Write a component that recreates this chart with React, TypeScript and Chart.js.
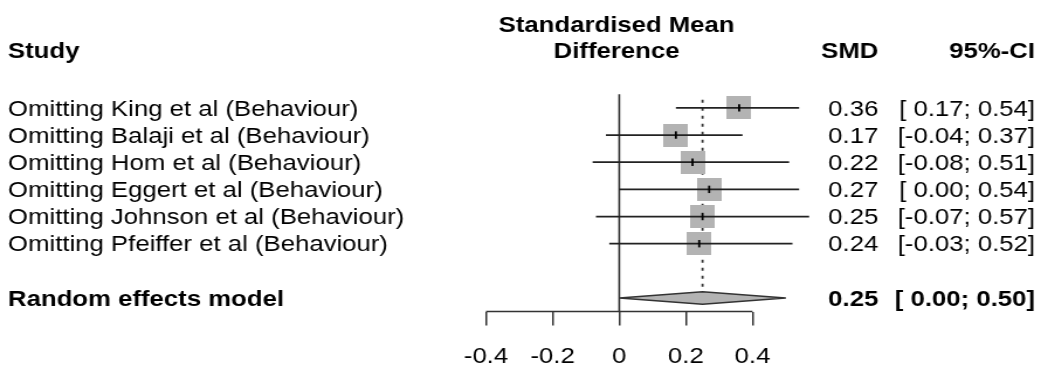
import React, { useEffect, useRef } from 'react';
import { Chart, registerables } from 'chart.js';

Chart.register(...registerables);

// ---------- data ----------
const STUDIES = [
  'Omitting King et al (Behaviour)',
  'Omitting Balaji et al (Behaviour)',
  'Omitting Hom et al (Behaviour)',
  'Omitting Eggert et al (Behaviour)',
  'Omitting Johnson et al (Behaviour)',
  'Omitting Pfeiffer et al (Behaviour)',
];
const SMD = [0.36, 0.17, 0.22, 0.27, 0.25, 0.24];
const CI_LOWER = [0.17, -0.04, -0.08, 0.0, -0.07, -0.03];
const CI_UPPER = [0.54, 0.37, 0.51, 0.54, 0.57, 0.52];

const POOLED_LABEL = 'Random effects model';
const POOLED_SMD = 0.25;
const POOLED_LOWER = 0.0;
const POOLED_UPPER = 0.5;

const X_TICKS = [-0.4, -0.2, 0, 0.2, 0.4];
const X_TICK_LABELS = ['-0.4', '-0.2', '0', '0.2', '0.4'];

const HEADER_STUDY = 'Study';
const HEADER_EFFECT = ['Standardised Mean', 'Difference'];
const HEADER_SMD = 'SMD';
const HEADER_CI = '95%-CI';

// ---------- layout (canvas space; canvas is stretched horizontally by CSS) ----------
const CSS_W = 1041;
const W = 890;
const H = 388;
const SX = CSS_W / W;
const FONT = '"Liberation Sans", Arial, Helvetica, sans-serif';
const FONT_SIZE = 22;
const DIAMOND_H = 0.23;

const fmt = (v: number) => v.toFixed(2);
const fmtCI = (lo: number, hi: number) => `[${fmt(lo).padStart(5, ' ')}; ${fmt(hi)}]`;

export default function App() {
  const ref = useRef<HTMLCanvasElement>(null);

  useEffect(() => {
    const canvas = ref.current;
    if (!canvas) return;

    const square = document.createElement('canvas');
    square.width = 21;
    square.height = 23;
    const sctx = square.getContext('2d')!;
    sctx.fillStyle = '#b3b3b3';
    sctx.fillRect(0, 0, square.width, square.height);

    const rows = STUDIES.map((_, i) => i + 1);
    const pooledRow = STUDIES.length + 2;
    const yMin = 0.5;
    const yMax = pooledRow + 0.5;

    const common = { type: 'line', clip: false, tension: 0, pointRadius: 0, fill: false };

    const datasets: any[] = [
      {
        ...common,
        label: 'pooled-ref',
        data: [
          { x: POOLED_SMD, y: 0.7 },
          { x: POOLED_SMD, y: pooledRow - DIAMOND_H },
        ],
        borderColor: '#333',
        borderWidth: 1.8,
        borderDash: [3, 5],
        order: 10,
      },
      {
        ...common,
        label: 'null-line',
        data: [
          { x: 0, y: yMin },
          { x: 0, y: yMax },
        ],
        borderColor: '#2b2b2b',
        borderWidth: 1.6,
        order: 9,
      },
      {
        ...common,
        label: 'squares',
        data: SMD.map((v, i) => ({ x: v, y: rows[i] })),
        showLine: false,
        pointStyle: square,
        pointRadius: 10,
        order: 8,
      },
      ...STUDIES.map((s, i) => ({
        ...common,
        label: s,
        data: [
          { x: CI_LOWER[i], y: rows[i] },
          { x: CI_UPPER[i], y: rows[i] },
        ],
        borderColor: '#222',
        borderWidth: 1.8,
        order: 7,
      })),
      {
        ...common,
        label: 'estimates',
        data: SMD.map((v, i) => ({ x: v, y: rows[i] })),
        showLine: false,
        pointStyle: 'line',
        pointRotation: 90,
        pointRadius: 3.7,
        pointBorderWidth: 1.8,
        pointBorderColor: '#000',
        order: 6,
      },
      {
        ...common,
        label: POOLED_LABEL,
        data: [
          { x: POOLED_LOWER, y: pooledRow },
          { x: POOLED_SMD, y: pooledRow - DIAMOND_H },
          { x: POOLED_UPPER, y: pooledRow },
          { x: POOLED_SMD, y: pooledRow + DIAMOND_H },
          { x: POOLED_LOWER, y: pooledRow },
        ],
        fill: 'shape',
        backgroundColor: '#b3b3b3',
        borderColor: '#333',
        borderWidth: 1.5,
        order: 5,
      },
      {
        ...common,
        label: 'x-axis',
        data: [
          { x: X_TICKS[0], y: yMax },
          { x: X_TICKS[X_TICKS.length - 1], y: yMax },
        ],
        borderColor: '#333',
        borderWidth: 1.5,
        order: 4,
      },
    ];

    const textPlugin = {
      id: 'forestText',
      afterDraw(chart: any) {
        const ctx = chart.ctx as CanvasRenderingContext2D;
        const ys = chart.scales.y;
        const reg = `${FONT_SIZE}px ${FONT}`;
        const bold = `bold ${FONT_SIZE}px ${FONT}`;
        const xLeft = 8 / SX;
        const xCenter = 616.6 / SX;
        const xSmd = 878.3 / SX;
        const xCi = 1035 / SX;
        const off = 7.7;
        ctx.save();
        ctx.fillStyle = '#000';
        ctx.textBaseline = 'alphabetic';

        // headers
        ctx.font = bold;
        ctx.textAlign = 'left';
        ctx.fillText(HEADER_STUDY, xLeft, 58);
        ctx.textAlign = 'center';
        ctx.fillText(HEADER_EFFECT[0], xCenter, 31.5);
        ctx.fillText(HEADER_EFFECT[1], xCenter, 58);
        ctx.textAlign = 'right';
        ctx.fillText(HEADER_SMD, xSmd, 58);
        ctx.fillText(HEADER_CI, xCi, 58);

        // study rows
        ctx.font = reg;
        STUDIES.forEach((s, i) => {
          const py = ys.getPixelForValue(rows[i]) + off;
          ctx.textAlign = 'left';
          ctx.fillText(s, xLeft, py);
          ctx.textAlign = 'right';
          ctx.fillText(fmt(SMD[i]), xSmd, py);
          ctx.fillText(fmtCI(CI_LOWER[i], CI_UPPER[i]), xCi, py);
        });

        // pooled row
        ctx.font = bold;
        const pp = ys.getPixelForValue(pooledRow) + off;
        ctx.textAlign = 'left';
        ctx.fillText(POOLED_LABEL, xLeft, pp);
        ctx.textAlign = 'right';
        ctx.fillText(fmt(POOLED_SMD), xSmd, pp);
        ctx.fillText(fmtCI(POOLED_LOWER, POOLED_UPPER), xCi, pp);
        ctx.restore();
      },
    };

    const xMin = -0.4;
    const xMax = 0.62;
    const leftPx = 486 / SX;
    const rightPx = (619 + xMax * 333.5) / SX;

    const chart = new Chart(canvas, {
      type: 'line',
      data: { datasets },
      options: {
        responsive: false,
        animation: false,
        events: [],
        layout: {
          padding: { left: leftPx, right: W - rightPx, top: 94.3, bottom: 0 },
        },
        plugins: {
          legend: { display: false },
          tooltip: { enabled: false },
        },
        scales: {
          x: {
            type: 'linear',
            position: 'bottom',
            min: xMin,
            max: xMax,
            afterBuildTicks: (axis: any) => {
              axis.ticks = X_TICKS.map((v) => ({ value: v }));
            },
            ticks: {
              autoSkip: false,
              maxRotation: 0,
              padding: 18,
              color: '#000',
              font: { family: FONT, size: FONT_SIZE },
              callback: (_v: any, i: number) => X_TICK_LABELS[i],
            },
            grid: {
              display: true,
              drawOnChartArea: false,
              drawTicks: true,
              tickLength: 14,
              lineWidth: 1.5,
              color: '#333',
            },
            border: { display: false },
          },
          y: {
            type: 'linear',
            display: false,
            reverse: true,
            min: yMin,
            max: yMax,
          },
        },
      } as any,
      plugins: [textPlugin],
    } as any);

    return () => chart.destroy();
  }, []);

  return (
    <canvas
      ref={ref}
      width={W}
      height={H}
      style={{ position: 'absolute', left: 0, top: 0, width: `${CSS_W}px`, height: `${H}px` }}
    />
  );
}
